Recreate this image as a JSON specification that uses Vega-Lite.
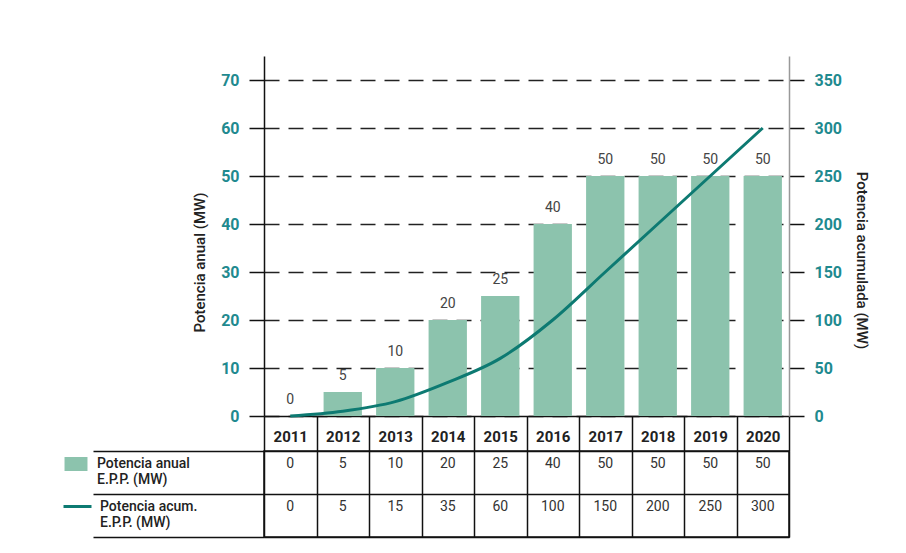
{
  "$schema": "https://vega.github.io/schema/vega-lite/v6.json",
  "background": "white",
  "padding": {"left": 61, "top": 56, "right": 5, "bottom": 5},
  "config": {"font": "Roboto", "view": {"stroke": null}},
  "datasets": {
    "epp": [
      {"year": "2011", "anual": 0, "acum": 0},
      {"year": "2012", "anual": 5, "acum": 5},
      {"year": "2013", "anual": 10, "acum": 15},
      {"year": "2014", "anual": 20, "acum": 35},
      {"year": "2015", "anual": 25, "acum": 60},
      {"year": "2016", "anual": 40, "acum": 100},
      {"year": "2017", "anual": 50, "acum": 150},
      {"year": "2018", "anual": 50, "acum": 200},
      {"year": "2019", "anual": 50, "acum": 250},
      {"year": "2020", "anual": 50, "acum": 300}
    ]
  },
  "bounds": "flush",
  "spacing": 35,
  "resolve": {"legend": {"fill": "independent", "stroke": "independent"}, "scale": {"fill": "independent", "stroke": "independent"}},
  "vconcat": [
    {
      "width": 525,
      "height": 360,
      "data": {"name": "epp"},
      "encoding": {
        "x": {
          "field": "year",
          "type": "ordinal",
          "scale": {"paddingInner": 0, "paddingOuter": 0},
          "axis": {
            "title": null,
            "labelAngle": 0,
            "labelFontSize": 15,
            "labelFontWeight": "bold",
            "labelColor": "#222",
            "labelBaseline": "middle",
            "labelPadding": -15,
            "tickBand": "extent",
            "tickSize": 35,
            "tickColor": "#111",
            "tickWidth": 1.5,
            "domainColor": "#111",
            "domainWidth": 1.5,
            "minExtent": 35,
            "maxExtent": 35
          }
        }
      },
      "layer": [
        {
          "layer": [
            {
              "mark": {"type": "bar", "color": "#8cc3ad", "width": {"band": 0.73}},
              "encoding": {
                "y": {
                  "field": "anual",
                  "type": "quantitative",
                  "scale": {"domain": [0, 75], "nice": false},
                  "axis": {
                    "title": "Potencia anual (MW)",
                    "values": [0, 10, 20, 30, 40, 50, 60, 70],
                    "domainColor": "#111",
                    "domainWidth": 1.5,
                    "tickColor": "#111",
                    "tickWidth": 1.5,
                    "tickSize": 15,
                    "labelColor": "#1f8a8f",
                    "labelFontSize": 16,
                    "labelFontWeight": "bold",
                    "labelPadding": 10,
                    "grid": true,
                    "gridColor": "#222",
                    "gridDash": [15, 9],
                    "gridWidth": 1.5,
                    "titleColor": "#222",
                    "titleFontSize": 15,
                    "titleFontWeight": 500,
                    "titleBaseline": "middle",
                    "titleX": -65,
                    "titleY": 206
                  }
                }
              }
            },
            {
              "mark": {"type": "text", "fontSize": 14, "color": "#444", "baseline": "middle", "dy": -16},
              "encoding": {
                "y": {"field": "anual", "type": "quantitative"},
                "text": {"field": "anual", "type": "quantitative"}
              }
            }
          ]
        },
        {
          "mark": {"type": "line", "color": "#0d7a72", "strokeWidth": 3, "interpolate": "monotone"},
          "encoding": {
            "y": {
              "field": "acum",
              "type": "quantitative",
              "scale": {"domain": [0, 375], "nice": false},
              "axis": {
                "orient": "right",
                "title": "Potencia acumulada (MW)",
                "values": [0, 50, 100, 150, 200, 250, 300, 350],
                "domainColor": "#999",
                "domainWidth": 1.5,
                "tickColor": "#111",
                "tickWidth": 1.5,
                "tickSize": 15,
                "labelColor": "#1f8a8f",
                "labelFontSize": 16,
                "labelFontWeight": "bold",
                "labelPadding": 10,
                "grid": false,
                "titleColor": "#222",
                "titleFontSize": 15,
                "titleFontWeight": 500,
                "titleBaseline": "middle",
                "titleX": 72,
                "titleY": 204
              }
            }
          }
        }
      ],
      "resolve": {"scale": {"y": "independent"}}
    },
    {
      "width": 525,
      "height": 86,
      "data": {"name": "epp"},
      "transform": [{"fold": ["anual", "acum"], "as": ["serie", "valor"]}],
      "view": {"stroke": "#111", "strokeWidth": 1.5},
      "encoding": {
        "x": {
          "field": "year",
          "type": "ordinal",
          "scale": {"paddingInner": 0, "paddingOuter": 0},
          "axis": {
            "orient": "top",
            "title": null,
            "labels": false,
            "ticks": false,
            "domain": false,
            "grid": true,
            "gridColor": "#111",
            "gridWidth": 1.5,
            "tickBand": "extent",
            "minExtent": 0,
            "maxExtent": 0
          }
        },
        "y": {
          "field": "serie",
          "type": "nominal",
          "sort": ["anual", "acum"],
          "axis": {
            "title": null,
            "labels": false,
            "domain": false,
            "ticks": true,
            "tickSize": 171,
            "tickColor": "#111",
            "tickWidth": 1.5,
            "tickBand": "extent",
            "grid": true,
            "gridColor": "#111",
            "gridWidth": 1.5
          }
        }
      },
      "layer": [
        {
          "mark": {"type": "text", "fontSize": 14, "color": "#333", "dy": -9},
          "encoding": {
            "text": {"field": "valor", "type": "quantitative"}
          }
        },
        {
          "transform": [{"filter": "false"}],
          "mark": {"type": "bar"},
          "encoding": {
            "fill": {
              "datum": "Potencia anual E.P.P. (MW)",
              "scale": {"range": ["#8cc3ad"]},
              "legend": {
                "orient": "none",
                "legendX": -202,
                "legendY": -1,
                "title": null,
                "padding": 0,
                "symbolType": "M-0.82,-0.5H0.82V0.5H-0.82Z",
                "symbolSize": 784,
                "symbolStrokeWidth": 0,
                "labelFontSize": 14,
                "labelFontWeight": 500,
                "labelColor": "#222",
                "labelOffset": 7,
                "labelLimit": 0,
                "labelExpr": "['Potencia anual', 'E.P.P. (MW)']"
              }
            }
          }
        },
        {
          "transform": [{"filter": "false"}],
          "mark": {"type": "line"},
          "encoding": {
            "stroke": {
              "datum": "Potencia acum. E.P.P. (MW)",
              "scale": {"range": ["#0d7a72"]},
              "legend": {
                "orient": "none",
                "legendX": -202,
                "legendY": 40,
                "title": null,
                "padding": 0,
                "symbolType": "stroke",
                "symbolSize": 784,
                "symbolStrokeWidth": 3,
                "labelFontSize": 14,
                "labelFontWeight": 500,
                "labelColor": "#222",
                "labelOffset": 7,
                "labelLimit": 0,
                "labelExpr": "['Potencia acum.', 'E.P.P. (MW)']"
              }
            }
          }
        }
      ]
    }
  ]
}
